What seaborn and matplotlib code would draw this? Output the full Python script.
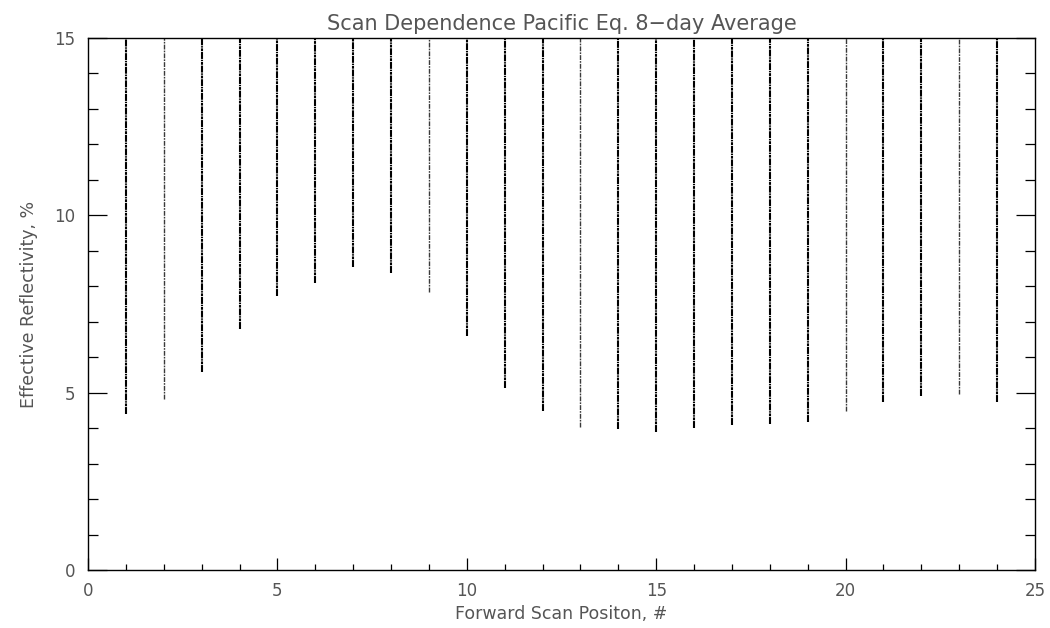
import numpy as np
import pandas as pd
import matplotlib
matplotlib.use("Agg")
import matplotlib.pyplot as plt
from matplotlib.ticker import MultipleLocator
import seaborn as sns

# Forward scan positions and the lowest effective reflectivity seen at each one (%).
scan_position = [1, 2, 3, 4, 5, 6, 7, 8, 9, 10, 11, 12,
                 13, 14, 15, 16, 17, 18, 19, 20, 21, 22, 23, 24]
refl_min = [4.40, 4.82, 5.59, 6.79, 7.73, 8.08, 8.55, 8.38, 7.84, 6.61, 5.13, 4.48,
            4.02, 3.97, 3.88, 4.00, 4.09, 4.12, 4.16, 4.49, 4.73, 4.90, 4.96, 4.73]
# Values run off the top of the plotted range at every position.
refl_max = [16.0] * len(scan_position)

# Positions whose samples are sparse (drawn lighter).
sparse_positions = {2, 9, 13, 20, 23}

title = "Scan Dependence Pacific Eq. 8\u2212day Average"
xlabel = "Forward Scan Positon, #"
ylabel = "Effective Reflectivity, %"
xticks = [0, 5, 10, 15, 20, 25]
yticks = [0, 5, 10, 15]

# Long-form table: one low and one high row per scan position.
df = pd.DataFrame({
    "position": scan_position * 2,
    "reflectivity": refl_min + refl_max,
})

sns.set_theme(style="white")
plt.rcParams["font.family"] = ["DejaVu Sans"]
plt.rcParams["lines.scale_dashes"] = False
text_color = "#555555"

fig = plt.figure(figsize=(10.5, 6.28), dpi=100)
ax = fig.add_axes([88 / 1050, 1 - 570 / 628, (1035 - 88) / 1050, (570 - 38) / 628])

sns.lineplot(data=df, x="position", y="reflectivity", units="position",
             estimator=None, sort=False, color="black", lw=1.5, ax=ax, legend=False)

for line in ax.get_lines():
    xs = line.get_xdata()
    if len(xs) and int(round(xs[0])) in sparse_positions:
        line.set_color("#3a3a3a")
        line.set_linewidth(1.0)
        line.set_dashes((3.5, 0.8, 1.2, 0.8))
    else:
        line.set_dashes((5.0, 0.6, 2.0, 0.6, 1.0, 0.6))

ax.set_xlim(0, 25)
ax.set_ylim(0, 15)
ax.set_xticks(xticks)
ax.set_yticks(yticks)
ax.xaxis.set_minor_locator(MultipleLocator(1))
ax.yaxis.set_minor_locator(MultipleLocator(1))

for side in ["left", "right", "top", "bottom"]:
    ax.spines[side].set_visible(True)
    ax.spines[side].set_color("black")
    ax.spines[side].set_linewidth(1.0)

ax.tick_params(axis="y", which="major", direction="in", left=True, right=True,
               length=13.5, width=0.9, color="black", pad=9,
               labelsize=12, labelcolor=text_color)
ax.tick_params(axis="y", which="minor", direction="in", left=True, right=True,
               length=7.2, width=0.9, color="black")
ax.tick_params(axis="x", which="major", direction="in", bottom=True, top=False,
               length=8.5, width=0.9, color="black", pad=9,
               labelsize=12, labelcolor=text_color)
ax.tick_params(axis="x", which="minor", direction="in", bottom=True, top=False,
               length=4.3, width=0.9, color="black")

ax.set_xlabel(xlabel, fontsize=12.5, color=text_color, labelpad=3)
ax.set_ylabel(ylabel, fontsize=12.5, color=text_color, labelpad=12)
ax.set_title(title, fontsize=15, color=text_color, pad=6)
ax.grid(False)

fig.savefig("out.png", dpi=100)
